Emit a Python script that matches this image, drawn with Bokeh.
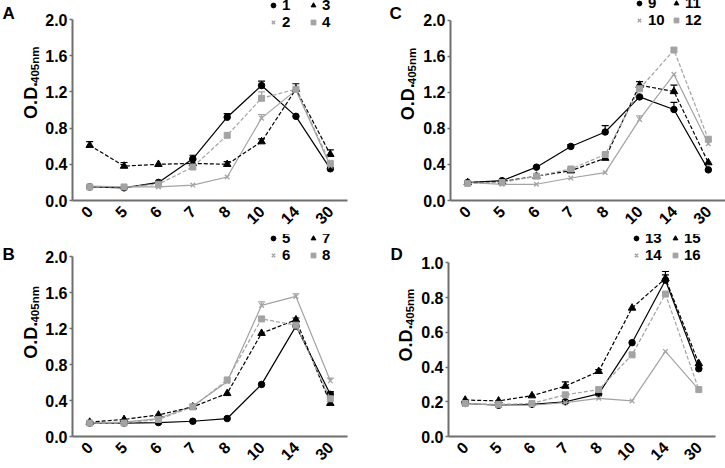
from math import pi
from bokeh.plotting import figure
from bokeh.models import (Legend, LegendItem, Label, Whisker, ColumnDataSource,
                          FactorRange, Range1d, FixedTicker, PrintfTickFormatter, TeeHead)
from bokeh.layouts import column, row
from bokeh.embed import file_html
from bokeh.resources import INLINE

days = ["0", "5", "6", "7", "8", "10", "14", "30"]

# Panel A
names_a = ["1", "2", "3", "4"]
s1 = [0.15, 0.14, 0.20, 0.46, 0.92, 1.27, 0.93, 0.35]
e1 = [0, 0, 0, 0.04, 0.04, 0.05, 0, 0]
s2 = [0.16, 0.15, 0.15, 0.17, 0.26, 0.91, 1.22, 0.38]
e2 = [0, 0, 0, 0, 0, 0.04, 0, 0]
s3 = [0.61, 0.38, 0.40, 0.41, 0.40, 0.65, 1.23, 0.51]
e3 = [0.04, 0.04, 0, 0.04, 0.03, 0.03, 0.06, 0.05]
s4 = [0.15, 0.15, 0.18, 0.37, 0.72, 1.13, 1.23, 0.41]
e4 = [0, 0, 0, 0, 0, 0.07, 0, 0]

# Panel B
names_b = ["5", "6", "7", "8"]
s5 = [0.15, 0.15, 0.155, 0.17, 0.20, 0.58, 1.23, 0.47]
e5 = [0, 0, 0, 0, 0, 0, 0, 0.03]
s6 = [0.15, 0.16, 0.20, 0.34, 0.61, 1.46, 1.56, 0.62]
e6 = [0, 0, 0, 0, 0, 0.04, 0.03, 0.03]
s7 = [0.16, 0.19, 0.24, 0.33, 0.48, 1.15, 1.30, 0.37]
e7 = [0, 0, 0, 0, 0, 0, 0.02, 0]
s8 = [0.15, 0.15, 0.19, 0.33, 0.63, 1.31, 1.24, 0.42]
e8 = [0, 0, 0, 0.03, 0, 0, 0, 0]

# Panel C
names_c = ["9", "10", "11", "12"]
s9 = [0.20, 0.22, 0.37, 0.60, 0.76, 1.15, 1.01, 0.34]
e9 = [0, 0, 0, 0.02, 0.07, 0, 0.08, 0]
s10 = [0.20, 0.18, 0.18, 0.25, 0.31, 0.90, 1.40, 0.63]
e10 = [0, 0, 0, 0, 0, 0.04, 0, 0]
s11 = [0.20, 0.21, 0.27, 0.33, 0.47, 1.28, 1.21, 0.42]
e11 = [0, 0, 0, 0.02, 0, 0.04, 0.07, 0]
s12 = [0.19, 0.20, 0.27, 0.35, 0.51, 1.24, 1.67, 0.68]
e12 = [0, 0, 0, 0, 0, 0.04, 0, 0]

# Panel D
names_d = ["13", "14", "15", "16"]
s13 = [0.19, 0.18, 0.185, 0.20, 0.245, 0.54, 0.90, 0.39]
e13 = [0, 0, 0, 0, 0, 0, 0.03, 0]
s14 = [0.19, 0.18, 0.18, 0.195, 0.22, 0.205, 0.49, 0.27]
e14 = [0, 0, 0, 0, 0, 0, 0, 0]
s15 = [0.21, 0.205, 0.235, 0.29, 0.375, 0.74, 0.91, 0.42]
e15 = [0, 0, 0, 0.025, 0.01, 0, 0.04, 0]
s16 = [0.19, 0.185, 0.19, 0.24, 0.27, 0.47, 0.82, 0.27]
e16 = [0, 0, 0, 0, 0, 0, 0, 0]

ticks_2 = [0.0, 0.4, 0.8, 1.2, 1.6, 2.0]
ticks_1 = [0.0, 0.2, 0.4, 0.6, 0.8, 1.0]

BLACK = "#000000"
GRAY = "#a3a3a3"
AXIS = "#6f6f6f"
FONT = "Liberation Sans"
H = 234

styles = [
    dict(color=BLACK, marker="circle", size=6.5, dash="solid"),
    dict(color=GRAY, marker="x", size=6.5, dash="solid"),
    dict(color=BLACK, marker="triangle", size=7.5, dash="4 2"),
    dict(color=GRAY, marker="square", size=6, dash="4 2"),
]


def make_strip(letter, w, letter_x, letter_base, od_x, nm_x, frame_top, frame_bot):
    """Narrow, axis-less figure holding the panel letter and the y-axis title."""
    s = figure(width=w, height=H, x_range=Range1d(0, w), y_range=Range1d(0, H),
               x_axis_type=None, y_axis_type=None, output_backend="svg",
               toolbar_location=None, min_border=0)
    s.outline_line_color = None
    s.xgrid.grid_line_color = None
    s.ygrid.grid_line_color = None
    center = (frame_top + frame_bot) / 2
    s.add_layout(Label(x=letter_x, y=H - letter_base, text=letter, text_font=FONT,
                       text_font_style="bold", text_font_size="17px",
                       text_baseline="alphabetic", text_align="left", text_color="black"))
    s.add_layout(Label(x=od_x, y=H - (center + 29), text="O.D.", angle=pi / 2,
                       text_font=FONT, text_font_style="bold", text_font_size="18px",
                       text_baseline="middle", text_align="left", text_color="black"))
    s.add_layout(Label(x=nm_x, y=H - (center - 13), text="405nm", angle=pi / 2,
                       text_font=FONT, text_font_style="bold", text_font_size="11.5px",
                       text_baseline="middle", text_align="left", text_color="black"))
    return s


def make_panel(series, errors, names, ymax, yticks, w, br, bb, frame_top,
               leg_x, row1_y, row_h, label_w):
    fh = H - bb
    ytop = ymax * fh / (fh - frame_top)   # frame runs to the figure top
    p = figure(width=w, height=H, x_range=FactorRange(factors=days, range_padding=0),
               y_range=Range1d(0, ytop), output_backend="svg", toolbar_location=None,
               min_border_left=30, min_border_right=br, min_border_top=0,
               min_border_bottom=bb)
    p.outline_line_color = None
    p.xgrid.grid_line_color = None
    p.ygrid.grid_line_color = None
    p.background_fill_color = "white"

    for ax in (p.xaxis[0], p.yaxis[0]):
        ax.axis_line_color = AXIS
        ax.axis_line_width = 2
        ax.major_label_text_font = FONT
        ax.major_label_text_font_style = "bold"
        ax.major_label_text_font_size = "16px"
        ax.major_label_text_color = "black"
        ax.minor_tick_line_color = None
    p.xaxis.major_tick_line_color = None
    p.xaxis.major_label_orientation = pi / 4
    p.xaxis.major_label_standoff = 2
    p.yaxis.bounds = (0, ymax)
    p.yaxis.ticker = FixedTicker(ticks=yticks)
    p.yaxis.formatter = PrintfTickFormatter(format="%.1f")
    p.yaxis.major_tick_line_color = AXIS
    p.yaxis.major_tick_line_width = 1.5
    p.yaxis.major_tick_out = 3
    p.yaxis.major_tick_in = 0
    p.yaxis.major_label_standoff = 2

    items = []
    for vals, errs, name, st in zip(series, errors, names, styles):
        p.line(days, vals, line_color=st["color"], line_width=1.2, line_dash=st["dash"])
        eb_x = [d for d, e in zip(days, errs) if e > 0]
        eb_lo = [v for v, e in zip(vals, errs) if e > 0]
        eb_hi = [v + e for v, e in zip(vals, errs) if e > 0]
        if eb_x:
            src = ColumnDataSource(dict(x=eb_x, lo=eb_lo, hi=eb_hi))
            wk = Whisker(base="x", lower="lo", upper="hi", source=src,
                         line_color=st["color"], line_width=1.2,
                         upper_head=TeeHead(size=7, line_color=st["color"], line_width=1.2),
                         lower_head=None)
            p.add_layout(wk)
        kw = dict(marker=st["marker"], size=st["size"], color=st["color"])
        if st["marker"] == "x":
            kw["line_width"] = 1.3
        r = p.scatter(days, vals, **kw)
        items.append(LegendItem(label=name, renderers=[r]))

    # location tuple = bottom-left of the legend, relative to the frame bottom-left
    leg = Legend(items=items, orientation="vertical", nrows=2,
                 location=(leg_x - 6, fh - row1_y - 1.5 * row_h),
                 glyph_width=12, glyph_height=row_h, label_height=row_h,
                 label_width=label_w, label_standoff=3, spacing=0, padding=0, margin=0,
                 border_line_color=None, background_fill_alpha=0,
                 label_text_font=FONT, label_text_font_style="bold",
                 label_text_font_size="15px", label_text_color="black")
    p.add_layout(leg, "center")
    return p


# top-left (A): strip 0..42, frame 72..347, y 19..200
sa = make_strip("A", 42, 2, 15, 30, 34, 19, 200)
pa = make_panel([s1, s2, s3, s4], [e1, e2, e3, e4], names_a, 2.0, ticks_2,
                320, 15, 34, 19, 201, 9, 14, 25)
# top-right (C): strip 362..420, frame 450..725, y 20..202
sc = make_strip("C", 58, 27, 15, 45, 49, 20, 202)
pc = make_panel([s9, s10, s11, s12], [e9, e10, e11, e12], names_c, 2.0, ticks_2,
                305, 0, 32, 20, 189, 9, 14, 22)
# bottom-left (B): frame y 23..207 (panel coords)
sb = make_strip("B", 42, 2, 23, 30, 34, 23, 207)
pb = make_panel([s5, s6, s7, s8], [e5, e6, e7, e8], names_b, 2.0, ticks_2,
                320, 15, 27, 23, 201, 13, 14, 25)
# bottom-right (D): frame 448..715, y 29..207
sd = make_strip("D", 56, 28, 23, 43.5, 47.5, 29, 207)
pd = make_panel([s13, s14, s15, s16], [e13, e14, e15, e16], names_d, 1.0, ticks_1,
                307, 10, 27, 29, 188, 13, 14, 24)

layout = column(row(sa, pa, sc, pc), row(sb, pb, sd, pd))
open("out.html", "w").write(file_html(layout, INLINE))
